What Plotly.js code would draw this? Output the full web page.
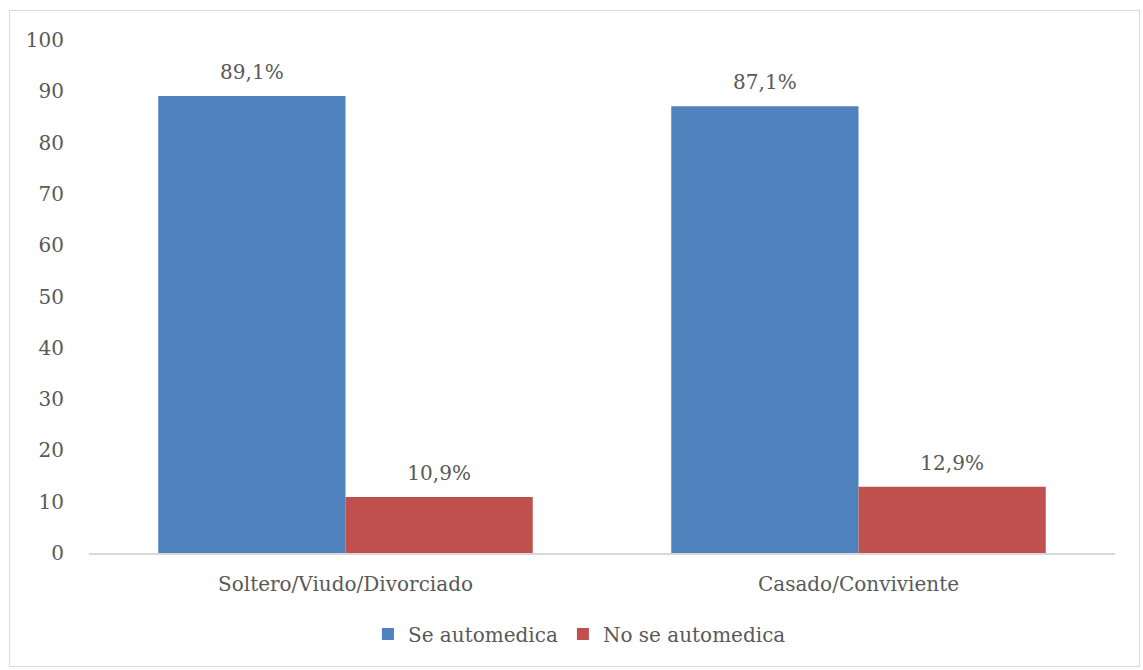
<!DOCTYPE html>
<html><head><meta charset="utf-8">
<script src="https://cdn.plot.ly/plotly-3.0.1.min.js"></script>
<style>
body{margin:0;background:#fff;}
#wrap{position:relative;width:1143px;height:670px;}
#frame{position:absolute;left:9px;top:10px;width:1129px;height:655px;border:1px solid #d9d9d9;pointer-events:none;}
#chart{position:absolute;left:0;top:0;width:1143px;height:670px;}
</style></head>
<body>
<div id="wrap"><div id="chart"></div><div id="frame"></div></div>
<script>
const categories = ["Soltero/Viudo/Divorciado", "Casado/Conviviente"];
const seAutomedica = [89.1, 87.1];
const noSeAutomedica = [10.9, 12.9];
const seriesNames = ["Se automedica", "No se automedica"];
const yTicks = [0,10,20,30,40,50,60,70,80,90,100];

const fmt = v => v.toFixed(1).replace('.', ',') + '%';
const font = {family: "DejaVu Serif, serif", size: 20, color: "#595959"};
const labelFont = {family: "DejaVu Serif, serif", size: 9, color: "#595959"};
const tmpl = '<span style="font-size:20px">%{text}</span><br> ';

const traces = [
  {type:'bar', name:seriesNames[0], x:categories, y:seAutomedica,
   text:seAutomedica.map(fmt), textposition:'outside', texttemplate:tmpl,
   textfont:labelFont, marker:{color:'#4f81bd'}, cliponaxis:false},
  {type:'bar', name:seriesNames[1], x:categories, y:noSeAutomedica,
   text:noSeAutomedica.map(fmt), textposition:'outside', texttemplate:tmpl,
   textfont:labelFont, marker:{color:'#c0504d'}, cliponaxis:false}
];

const layout = {
  width:1143, height:670,
  margin:{l:89, r:28, t:40, b:117},
  paper_bgcolor:'rgba(0,0,0,0)', plot_bgcolor:'#fff',
  font:font,
  uniformtext:{mode:false},
  barmode:'group', bargap:0.27, bargroupgap:0,
  showlegend:true,
  legend:{orientation:'h', x:0.478, xanchor:'center', y:-0.12, yanchor:'top', font:font, itemwidth:30},
  xaxis:{showline:true, linecolor:'#d9d9d9', linewidth:1.5, ticks:'outside', ticklen:12, tickcolor:'rgba(0,0,0,0)', tickfont:font, fixedrange:true},
  yaxis:{range:[0,100], tickvals:yTicks, showgrid:false, zeroline:false, showline:false,
         ticks:'outside', ticklen:20, tickcolor:'rgba(0,0,0,0)', tickfont:font}
};
Plotly.newPlot('chart', traces, layout, {displayModeBar:false, staticPlot:true});
</script>
</body></html>
